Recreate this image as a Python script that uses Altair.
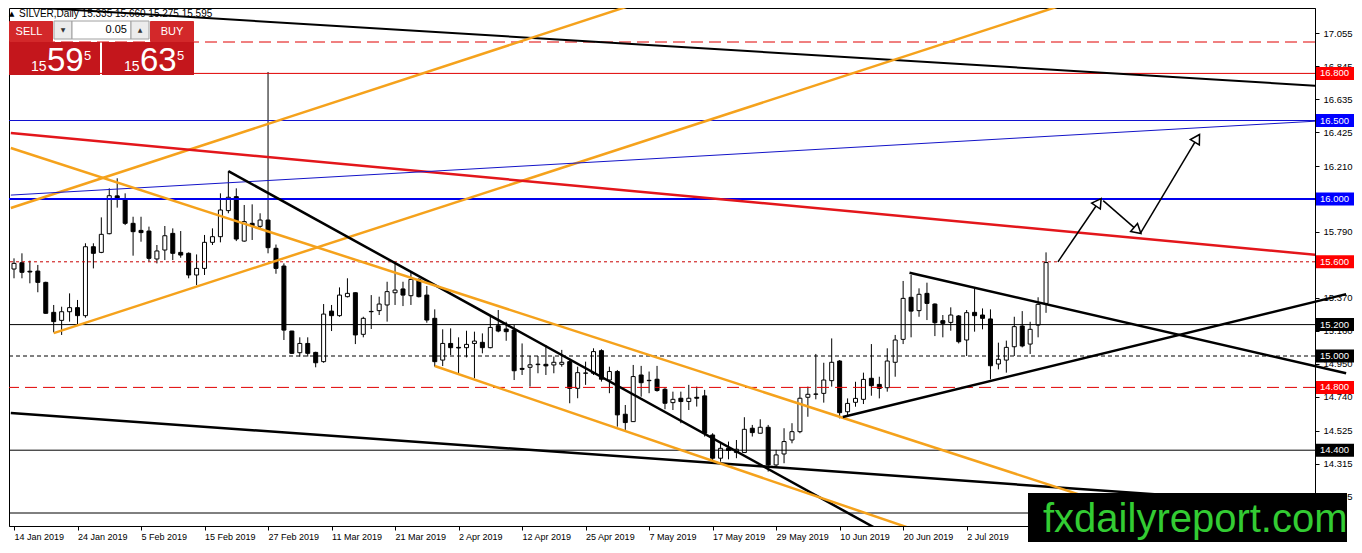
import json, math
import altair as alt
import pandas as pd

# ---------------- candle data (SILVER, Daily) ----------------
opens = [15.554,15.594,15.540,15.541,15.469,15.278,15.227,15.282,15.308,15.257,
         15.696,15.660,15.779,16.020,16.000,15.845,15.800,15.796,15.618,15.675,
         15.781,15.660,15.654,15.516,15.558,15.724,15.760,15.926,16.015,15.732,
         15.845,15.826,15.866,15.686,15.573,15.159,15.021,15.080,15.023,14.964,
         15.286,15.257,15.378,15.403,15.138,15.282,15.289,15.325,15.403,15.427,
         15.384,15.488,15.388,15.240,14.974,15.080,15.055,15.053,15.080,15.087,
         15.053,15.193,15.172,15.165,14.921,14.928,14.945,14.947,14.943,14.947,
         14.964,14.794,14.890,14.890,15.034,14.847,14.901,14.629,14.582,14.879,
         14.845,14.852,14.788,14.703,14.731,14.710,14.737,14.746,14.497,14.349,
         14.412,14.385,14.385,14.540,14.508,14.546,14.306,14.376,14.465,14.518,
         14.737,14.756,14.762,14.843,14.968,14.645,14.705,14.724,14.858,14.819,
         14.798,14.960,15.106,15.374,15.289,15.399,15.331,15.225,15.214,15.255,
         15.102,15.278,15.261,15.236,14.949,14.974,15.059,15.191,15.076,15.197,
         15.335]
highs = [15.622,15.654,15.607,15.580,15.473,15.325,15.314,15.399,15.357,15.718,
         15.718,15.883,16.068,16.132,16.036,15.887,15.887,15.824,15.707,15.828,
         15.813,15.796,15.660,15.647,15.771,15.813,16.036,16.178,16.068,15.962,
         15.966,15.909,16.809,15.710,15.590,15.160,15.119,15.119,15.027,15.331,
         15.325,15.437,15.495,15.405,15.250,15.388,15.378,15.473,15.594,15.473,
         15.537,15.495,15.446,15.297,15.170,15.176,15.119,15.161,15.155,15.144,
         15.261,15.293,15.218,15.197,15.080,15.000,15.000,15.070,14.996,15.039,
         14.985,14.932,14.964,15.049,15.043,14.932,14.911,14.688,14.943,14.937,
         14.901,14.937,14.801,14.773,14.773,14.816,14.805,14.784,14.508,14.444,
         14.455,14.465,14.610,14.561,14.597,14.561,14.402,14.540,14.572,14.801,
         14.805,15.013,14.957,15.112,14.974,14.730,14.836,14.894,15.076,14.868,
         15.049,15.134,15.478,15.516,15.431,15.467,15.335,15.261,15.310,15.261,
         15.293,15.431,15.303,15.297,15.085,15.098,15.250,15.286,15.218,15.374,
         15.660]
lows = [15.495,15.495,15.463,15.406,15.270,15.151,15.134,15.219,15.202,15.244,
        15.558,15.655,15.775,15.945,15.834,15.639,15.728,15.601,15.590,15.611,
        15.611,15.626,15.495,15.452,15.516,15.707,15.724,15.909,15.732,15.728,
        15.739,15.805,15.654,15.524,15.102,15.013,14.996,14.996,14.928,14.957,
        15.159,15.250,15.373,15.076,15.119,15.172,15.261,15.219,15.325,15.318,
        15.325,15.373,15.212,14.932,14.936,15.006,14.885,14.991,14.858,15.017,
        15.049,15.151,15.097,14.847,14.879,14.805,14.890,14.879,14.890,14.932,
        14.699,14.731,14.816,14.879,14.837,14.763,14.550,14.529,14.582,14.741,
        14.763,14.773,14.661,14.656,14.572,14.656,14.678,14.487,14.327,14.327,
        14.342,14.349,14.385,14.487,14.508,14.264,14.296,14.317,14.444,14.508,
        14.613,14.724,14.703,14.805,14.603,14.624,14.677,14.694,14.747,14.730,
        14.773,14.868,15.076,15.119,15.250,15.229,15.127,15.119,15.161,15.080,
        15.000,15.155,15.170,14.851,14.915,14.894,15.000,15.055,15.013,15.119,
        15.275]
closes = [15.590,15.533,15.535,15.469,15.272,15.219,15.282,15.308,15.257,15.696,
          15.654,15.775,16.021,16.004,15.845,15.792,15.786,15.622,15.669,15.766,
          15.654,15.643,15.516,15.558,15.724,15.760,15.930,16.011,15.745,15.856,
          15.830,15.866,15.690,15.558,15.165,15.017,15.080,15.017,14.957,15.267,
          15.257,15.388,15.399,15.134,15.240,15.284,15.331,15.410,15.420,15.388,
          15.488,15.378,15.229,14.964,15.080,15.053,15.051,15.074,15.095,15.053,
          15.182,15.159,15.155,14.906,14.915,14.944,14.948,14.937,14.960,14.960,
          14.794,14.894,14.892,15.028,14.852,14.901,14.625,14.576,14.869,14.830,
          14.843,14.780,14.699,14.724,14.710,14.731,14.731,14.508,14.349,14.412,
          14.398,14.406,14.533,14.512,14.546,14.306,14.370,14.455,14.518,14.731,
          14.756,14.758,14.847,14.960,14.639,14.698,14.730,14.851,14.811,14.794,
          14.968,15.102,15.367,15.286,15.393,15.335,15.212,15.208,15.261,15.091,
          15.276,15.257,15.240,14.938,14.979,15.055,15.187,15.064,15.170,15.329,
          15.595]

# ---------------- axes ----------------
tick_idx = [0, 8, 16, 24, 32, 40, 48, 56, 64, 72, 80, 88, 96, 104, 112, 120]
tick_labels = ["14 Jan 2019", "24 Jan 2019", "5 Feb 2019", "15 Feb 2019", "27 Feb 2019",
               "11 Mar 2019", "21 Mar 2019", "2 Apr 2019", "12 Apr 2019", "25 Apr 2019",
               "7 May 2019", "17 May 2019", "29 May 2019", "10 Jun 2019", "20 Jun 2019",
               "2 Jul 2019"]
# (15.580 and 16.000 are hidden under the price tags in the original)
price_ticks = [14.105, 14.315, 14.525, 14.740, 14.950, 15.160, 15.370,
               15.790, 16.210, 16.425, 16.635, 16.845, 17.055]

# ---------------- horizontal levels ----------------
level_names = ["r170", "r168", "b165", "b160", "r156", "k152", "k150", "r148", "k144", "k140"]
level_prices = [17.0, 16.8, 16.5, 16.0, 15.6, 15.2, 15.0, 14.8, 14.4, 14.0]
tag_prices = [16.8, 16.5, 16.0, 15.6, 15.2, 15.0, 14.8, 14.4]
tag_kinds = ["red", "blue", "blue", "red", "black", "black", "red", "black"]

# ---------------- trend lines (bar index, price) ----------------
trend_names = ["black_top", "orange_up1", "orange_up2", "red_main", "blue_thin",
               "black_feb", "black_low", "orange_dn_up", "orange_dn_low"]
trend_i1 = [-0.4, -0.4, 5.0, -0.4, -0.4, 27.0, -0.4, -0.4, 53.0]
trend_p1 = [17.229, 15.943, 15.146, 16.420, 16.025, 16.178, 14.637, 16.325, 14.936]
trend_i2 = [164.4, 78.6, 132.1, 164.4, 164.4, 109.6, 164.4, 149.1, 114.6]
trend_p2 = [16.720, 17.248, 17.236, 15.643, 16.497, 13.873, 14.045, 13.873, 13.873]

tri_names = ["tri_upper", "tri_lower"]
tri_i1 = [112.8, 104.4]
tri_p1 = [15.530, 14.611]
tri_i2 = [167.8, 167.8]
tri_p2 = [14.890, 15.394]

arrow_i1 = [131.5, 137.2, 141.9]
arrow_p1 = [15.600, 15.990, 15.783]
arrow_i2 = [136.9, 141.9, 149.3]
arrow_p2 = [16.000, 15.783, 16.408]

symbol = "SILVER,Daily"
bid, ask, lots = 15.595, 15.635, 0.05

# ---------------- layout ----------------
W, H = 1306, 518
X_DOM = [0.0, W / 8.0]
Y_DOM = [13.9172, 17.2166]
PX_I = W / (X_DOM[1] - X_DOM[0])
PX_P = H / (Y_DOM[1] - Y_DOM[0])
FONT = "Liberation Sans"

xscale = alt.Scale(domain=X_DOM, nice=False, zero=False)
yscale = alt.Scale(domain=Y_DOM, nice=False, zero=False)
label_expr = f"{json.dumps(tick_labels)}[indexof({json.dumps(tick_idx)}, datum.value)]"
xaxis = alt.Axis(values=tick_idx, labelExpr=label_expr, labelAlign="left", labelPadding=2,
                 tickSize=4, labelFont=FONT, labelFontSize=9, labelColor="black",
                 tickColor="black", domainColor="black", grid=False, labelOverlap=False,
                 title=None)
yaxis = alt.Axis(orient="right", values=price_ticks, format=".3f", labelPadding=4,
                 tickSize=4, labelFont=FONT, labelFontSize=9.5, labelColor="black",
                 tickColor="black", domainColor="black", grid=False, labelOverlap=False,
                 labelBaseline="middle", title=None)


def X(f):
    return alt.X(f, type="quantitative", scale=xscale, axis=xaxis)


def Y(f):
    return alt.Y(f, type="quantitative", scale=yscale, axis=yaxis)


df = pd.DataFrame({"i": list(range(len(opens))), "o": opens, "h": highs, "l": lows, "c": closes})
df["bull"] = df["c"] >= df["o"]

layers = []
layers.append(alt.Chart(df).mark_rule(color="black", strokeWidth=1, clip=True)
              .encode(x=X("i"), y=Y("l"), y2="h"))
layers.append(alt.Chart(df[df["bull"]]).mark_bar(size=4, fill="white", stroke="black",
                                                 strokeWidth=1, clip=True)
              .encode(x=X("i"), y=Y("o"), y2="c"))
layers.append(alt.Chart(df[~df["bull"]]).mark_bar(size=4, fill="black", stroke="black",
                                                  strokeWidth=1, clip=True)
              .encode(x=X("i"), y=Y("o"), y2="c"))

# horizontal levels
level_style = {
    "r170": dict(color="#e00000", strokeWidth=1, strokeDash=[12, 6]),
    "r168": dict(color="#e00000", strokeWidth=1),
    "b165": dict(color="#1010d0", strokeWidth=1),
    "b160": dict(color="#0000ee", strokeWidth=2),
    "r156": dict(color="#c80000", strokeWidth=1, strokeDash=[3, 3]),
    "k152": dict(color="black", strokeWidth=1),
    "k150": dict(color="black", strokeWidth=1, strokeDash=[4, 3]),
    "r148": dict(color="#e00000", strokeWidth=1, strokeDash=[12, 6]),
    "k144": dict(color="black", strokeWidth=1),
    "k140": dict(color="black", strokeWidth=1),
}
for name, p in zip(level_names, level_prices):
    layers.append(alt.Chart(pd.DataFrame({"p": [p]})).mark_rule(**level_style[name])
                  .encode(y=Y("p")))

# trend lines
trend_style = {
    "black_top": dict(color="black", strokeWidth=2),
    "orange_up1": dict(color="#f5a21c", strokeWidth=2.5),
    "orange_up2": dict(color="#f5a21c", strokeWidth=2.5),
    "red_main": dict(color="#e3161b", strokeWidth=2.5),
    "blue_thin": dict(color="#1414c8", strokeWidth=1),
    "black_feb": dict(color="black", strokeWidth=2.5),
    "black_low": dict(color="black", strokeWidth=2.5),
    "orange_dn_up": dict(color="#f5a21c", strokeWidth=2.5),
    "orange_dn_low": dict(color="#f5a21c", strokeWidth=2.5),
}
for name, a, b, c, d in zip(trend_names, trend_i1, trend_p1, trend_i2, trend_p2):
    t = pd.DataFrame({"i": [a, c], "p": [b, d]})
    layers.append(alt.Chart(t).mark_line(clip=True, **trend_style[name])
                  .encode(x=X("i"), y=Y("p")))
for name, a, b, c, d in zip(tri_names, tri_i1, tri_p1, tri_i2, tri_p2):
    t = pd.DataFrame({"i": [a, c], "p": [b, d]})
    layers.append(alt.Chart(t).mark_line(color="black", strokeWidth=2.5)
                  .encode(x=X("i"), y=Y("p")))

# arrows
head_rows = []
for k, (a, b, c, d) in enumerate(zip(arrow_i1, arrow_p1, arrow_i2, arrow_p2)):
    t = pd.DataFrame({"i": [a, c], "p": [b, d]})
    layers.append(alt.Chart(t).mark_line(color="black", strokeWidth=1.5)
                  .encode(x=X("i"), y=Y("p")))
    dx = (c - a) * PX_I
    dy = (d - b) * PX_P
    ang = math.degrees(math.atan2(dx, dy)) % 360
    back = 4.0
    hi = c - back * math.sin(math.radians(ang)) / PX_I
    hp = d - back * math.cos(math.radians(ang)) / PX_P
    head_rows.append({"i": hi, "p": hp, "ang": ang})
layers.append(alt.Chart(pd.DataFrame(head_rows))
              .mark_point(shape="triangle-up", filled=True, fill="white", stroke="black",
                          strokeWidth=1.5, size=110, opacity=1)
              .encode(x=X("i"), y=Y("p"), angle=alt.Angle("ang:Q", scale=None)))

# price tags on the right axis
tag_fill = {"red": "#ff0000", "blue": "#0000ff", "black": "#000000"}
half = 6.5 / PX_P
tags = pd.DataFrame({"p": tag_prices,
                     "top": [p + half for p in tag_prices],
                     "bot": [p - half for p in tag_prices],
                     "col": [tag_fill[k] for k in tag_kinds],
                     "txt": [f"{p:.3f}" for p in tag_prices]})
layers.append(alt.Chart(tags).mark_rect()
              .encode(x=alt.value(W + 1), x2=alt.value(W + 39), y=Y("top"), y2="bot",
                      color=alt.Color("col:N", scale=None)))
layers.append(alt.Chart(tags).mark_text(align="left", baseline="middle", color="white",
                                        font=FONT, fontSize=9.5)
              .encode(x=alt.value(W + 5), y=Y("p"), text="txt:N"))

# ---------------- header & one-click trading panel ----------------
dummy = pd.DataFrame({"d": [0]})


def box(x1, x2, y1, y2, fill, stroke=None, r=0):
    kw = dict(fill=fill, cornerRadius=r)
    if stroke:
        kw.update(stroke=stroke, strokeWidth=1)
    return alt.Chart(dummy).mark_rect(**kw).encode(
        x=alt.value(x1), x2=alt.value(x2), y=alt.value(y1), y2=alt.value(y2))


def label(x, y, txt, size, color="white", align="left", baseline="alphabetic", font=FONT):
    return alt.Chart(dummy).mark_text(text=txt, fontSize=size, color=color, align=align,
                                      baseline=baseline, font=font).encode(
        x=alt.value(x), y=alt.value(y))


ohlc_txt = " ".join(f"{v:.3f}" for v in (opens[-1], highs[-1], lows[-1], closes[-1]))
layers.append(label(0, 8, "\u25b2", 7, color="black", font="DejaVu Sans"))
layers.append(label(10, 9, f"{symbol}  {ohlc_txt}", 10, color="black"))

RED_BTN = "#d3282a"
RED_BOX = "#c4161c"
layers.append(box(0, 44, 13, 34, RED_BTN, r=1))
layers.append(box(45, 63, 13, 31, "#ececec", "#a0a0a0"))
layers.append(box(63, 122, 13, 31, "white", "#a0a0a0"))
layers.append(box(122, 140, 13, 31, "#ececec", "#a0a0a0"))
layers.append(box(141, 185, 13, 34, RED_BTN, r=1))
layers.append(box(0, 91, 34, 67, RED_BOX))
layers.append(box(93, 185, 34, 67, RED_BOX))
layers.append(label(20, 24, "SELL", 11, align="center", baseline="middle"))
layers.append(label(163, 24, "BUY", 11, align="center", baseline="middle"))
layers.append(label(54, 22, "\u25bc", 6, color="#333333", align="center", baseline="middle",
                    font="DejaVu Sans"))
layers.append(label(131, 22, "\u25b2", 6, color="#333333", align="center", baseline="middle",
                    font="DejaVu Sans"))
layers.append(label(118, 22, f"{lots:.2f}", 11, color="black", align="right", baseline="middle"))

for px, val in ((0, bid), (93, ask)):
    s = f"{val:.3f}"
    big, mid, small = s[:2], s[3:5], s[5:]
    layers.append(label(px + 22, 63, big, 14))
    layers.append(label(px + 38, 63, mid, 33))
    layers.append(label(px + 75, 52, small, 13))

# ---------------- watermark ----------------
layers.append(box(1019, 1338, 485, 534, "black"))
layers.append(label(1034, 524, "fxdailyreport.com", 40, color="#33cc33"))

chart = (alt.layer(*layers)
         .properties(width=W, height=H, padding=0, background="white")
         .configure_view(stroke="black", strokeWidth=1))

chart.save("out.html", embed_options={"renderer": "svg", "actions": False})
